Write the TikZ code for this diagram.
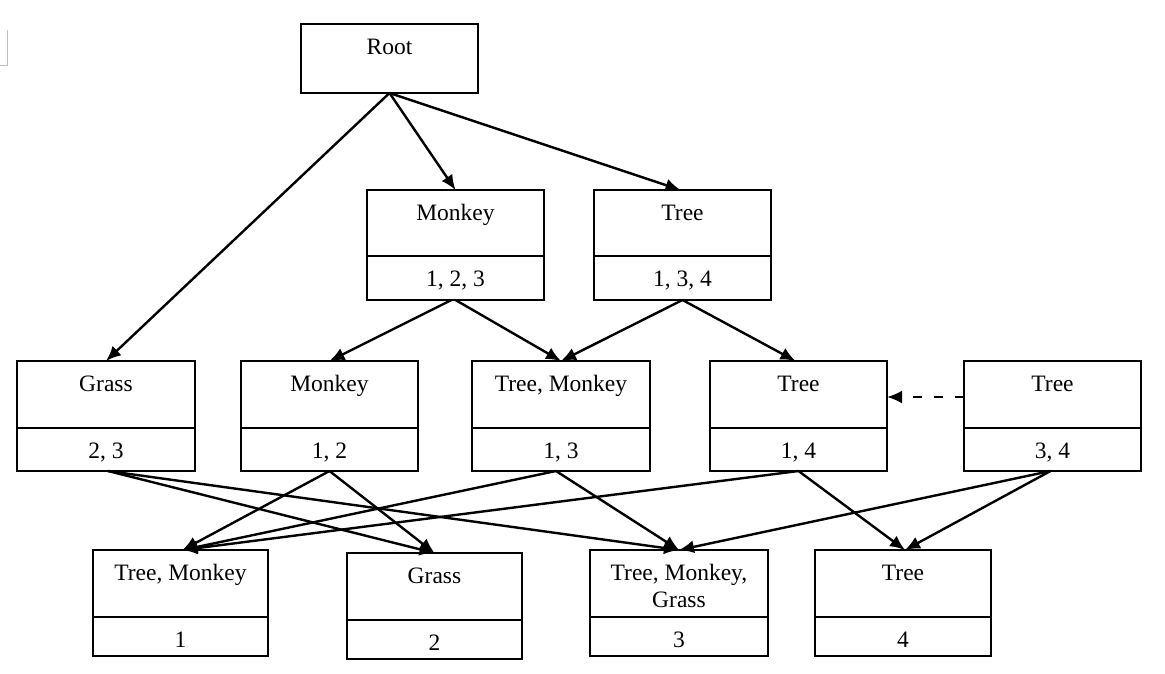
\documentclass[tikz,border=0pt]{standalone}
\usepackage{fontspec}
\setmainfont{Liberation Serif}
\usetikzlibrary{arrows.meta}
\newcommand\dbox[8]{%
  \node[box, minimum width={(#3-#2)*1pt}, minimum height={(#6-#4)*1pt}] (#1) at ({(#2+#3)/2},{(#4+#6)/2}) {};
  \draw[boxline] (#2,#5) -- (#3,#5);
  \node[lbl] (#1t) at ({(#2+#3)/2},{#4+30.5}) {#7};
  \node[lbl] (#1b) at ({(#2+#3)/2},{#5+30}) {#8};
}
\tikzset{
  box/.style={draw, line width=2.4pt, inner sep=0pt, outer sep=0pt},
  boxline/.style={line width=2.4pt},
  lbl/.style={anchor=base, inner sep=0pt},
  conn/.style={line width=2.4pt, -{Latex[length=15pt,width=13pt]}},
  dconn/.style={line width=2.4pt, dash pattern=on 9pt off 12pt, -{Latex[length=15pt,width=13pt]}},
}
\begin{document}
\begin{tikzpicture}[x=1pt, y=-1pt, font=\fontsize{23.5}{27}\selectfont]
\useasboundingbox (0,0) rectangle (1165,674);
% faint artifact top-left
\draw[gray!50, line width=1pt] (7,30) -- (7,66) -- (0,66);
% root
\node[box, minimum width=177pt, minimum height=69pt] (root) at (389.5,58.5) {};
\node[lbl] (roott) at (389.5,55) {Root};
% level 1
\dbox{monkeyA}{367}{544}{190}{256}{300}{Monkey}{1, 2, 3}
\dbox{treeA}{594}{771}{190}{256}{300}{Tree}{1, 3, 4}
% level 2
\dbox{grassB}{17}{195}{361}{428}{471}{Grass}{2, 3}
\dbox{monkeyB}{241}{418}{361}{428}{471}{Monkey}{1, 2}
\dbox{tmB}{472}{650}{361}{428}{471}{Tree, Monkey}{1, 3}
\dbox{treeB}{710}{887}{361}{428}{471}{Tree}{1, 4}
\dbox{treeC}{964}{1141}{361}{428}{471}{Tree}{3, 4}
% level 3
\dbox{tmD}{93}{268}{550}{617}{656}{Tree, Monkey}{1}
\dbox{grassD}{347}{522}{553}{620}{659}{Grass}{2}
\dbox{tmgD}{590}{768}{550}{617}{656}{\begin{tabular}[t]{@{}c@{}}Tree, Monkey,\\Grass\end{tabular}}{3}
\dbox{treeD}{815}{991}{550}{617}{656}{Tree}{4}
% connectors
\draw[conn] (root.south) -- (grassB.north);
\draw[conn] (root.south) -- (monkeyA.north);
\draw[conn] (root.south) -- ([xshift=-2pt]treeA.north);
\draw[conn] ([xshift=-4pt]monkeyA.south) -- (monkeyB.north);
\draw[conn] (monkeyA.south) -- (tmB.north);
\draw[conn] (treeA.south) -- (tmB.north);
\draw[conn] (treeA.south) -- ([xshift=-3pt]treeB.north);
\draw[dconn] ([yshift=-36pt]treeC.north west) -- ([yshift=-36pt]treeB.north east);
\draw[conn] ([xshift=2pt]grassB.south) -- (grassD.north);
\draw[conn] ([xshift=2pt]grassB.south) -- (tmgD.north);
\draw[conn] (monkeyB.south) -- ([xshift=2pt]tmD.north);
\draw[conn] (monkeyB.south) -- (grassD.north);
\draw[conn] ([xshift=-5pt]tmB.south) -- ([xshift=2pt]tmD.north);
\draw[conn] ([xshift=-5pt]tmB.south) -- (tmgD.north);
\draw[conn] (treeB.south) -- ([xshift=2pt]tmD.north);
\draw[conn] (treeB.south) -- ([xshift=2pt]treeD.north);
\draw[conn] ([xshift=-2pt]treeC.south) -- (tmgD.north);
\draw[conn] ([xshift=-2pt]treeC.south) -- ([xshift=2pt]treeD.north);
\end{tikzpicture}
\end{document}
